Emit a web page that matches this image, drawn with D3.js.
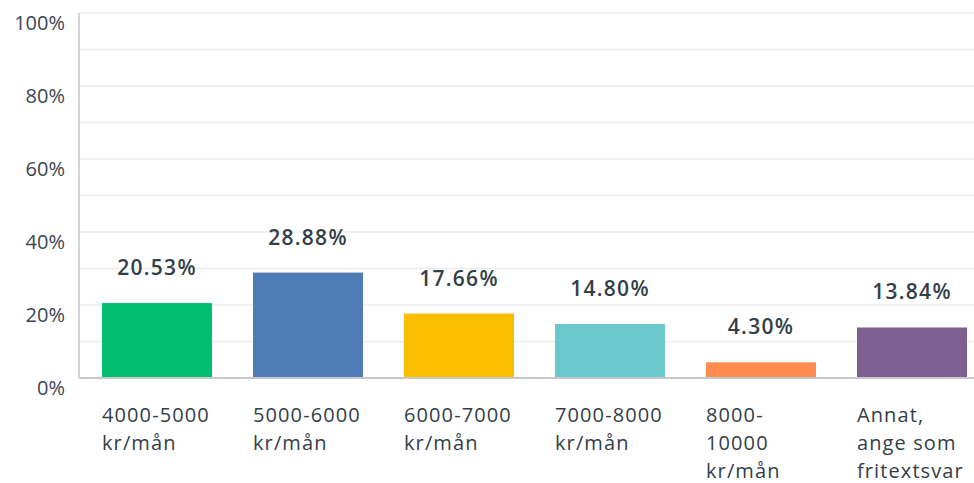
<!DOCTYPE html>
<html><head><meta charset="utf-8">
<script src="https://cdn.jsdelivr.net/npm/d3@7/dist/d3.min.js"></script>
<style>body{margin:0;background:#fff}svg{display:block}text{font-family:"Open Sans",sans-serif}</style>
</head><body><svg id="c" width="974" height="483"></svg>
<script>
const categories = [["4000-5000","kr/mån"],["5000-6000","kr/mån"],["6000-7000","kr/mån"],["7000-8000","kr/mån"],["8000-","10000","kr/mån"],["Annat,","ange som","fritextsvar"]];
const values = [20.53, 28.88, 17.66, 14.80, 4.30, 13.84];
const colors = ["#00bf6f","#507cb6","#f9be00","#6bc8cd","#ff8b4f","#7f5f90"];
const yTicks = [0,20,40,60,80,100];
const yGrid = [0,10,20,30,40,50,60,70,80,90,100];

(function(){
const svg = d3.select("#c");
const mLeft = 79, mTop = 13, mBottom = 378, rightEdge = 974;
const step = 151, inner = 41/151, outer = 23/151;
const x = d3.scaleBand().domain(d3.range(values.length))
  .range([mLeft, mLeft + step*(values.length - inner + 2*outer)])
  .paddingInner(inner).paddingOuter(outer);
const y = d3.scaleLinear().domain([0,100]).range([mBottom, mTop]);

svg.append("g").selectAll("line").data(yGrid.filter(d=>d>0)).join("line")
  .attr("x1", mLeft).attr("x2", rightEdge).attr("y1", d=>y(d)).attr("y2", d=>y(d))
  .attr("stroke", "#ececec").attr("stroke-width", 1.5);

svg.append("g").selectAll("rect").data(values).join("rect")
  .attr("x", (d,i)=>x(i)).attr("width", x.bandwidth())
  .attr("y", d=>y(d)).attr("height", d=>mBottom - y(d))
  .attr("fill", (d,i)=>colors[i]);

svg.append("line").attr("x1", mLeft).attr("x2", rightEdge).attr("y1", mBottom).attr("y2", mBottom)
  .attr("stroke", "#c8c8c8").attr("stroke-width", 2);
svg.append("line").attr("x1", mLeft).attr("x2", mLeft).attr("y1", mTop).attr("y2", mBottom)
  .attr("stroke", "#d4d4d4").attr("stroke-width", 2);

svg.append("g").selectAll("text").data(yTicks).join("text")
  .attr("x", 65).attr("y", d=>y(d) + 16.5).attr("text-anchor","end")
  .attr("font-size", 20).attr("fill", "#3b4651").text(d=>d+"%");

svg.append("g").selectAll("text").data(values).join("text")
  .attr("x", (d,i)=>x(i)+x.bandwidth()/2).attr("y", d=>y(d)-28)
  .attr("text-anchor","middle").attr("font-size", 21).attr("font-weight", 600)
  .attr("letter-spacing", 1.3)
  .attr("fill", "#333e48").text(d=>d.toFixed(2)+"%");

const cat = svg.append("g").selectAll("text").data(categories).join("text")
  .attr("x", (d,i)=>x(i)).attr("y", 422)
  .attr("font-size", 20).attr("letter-spacing", 1.1).attr("fill", "#333e48");
cat.selectAll("tspan").data(d=>d).join("tspan")
  .attr("x", function(){return d3.select(this.parentNode).attr("x");})
  .attr("dy", (d,i)=>i===0?0:28).text(d=>d);
})();
</script></body></html>
